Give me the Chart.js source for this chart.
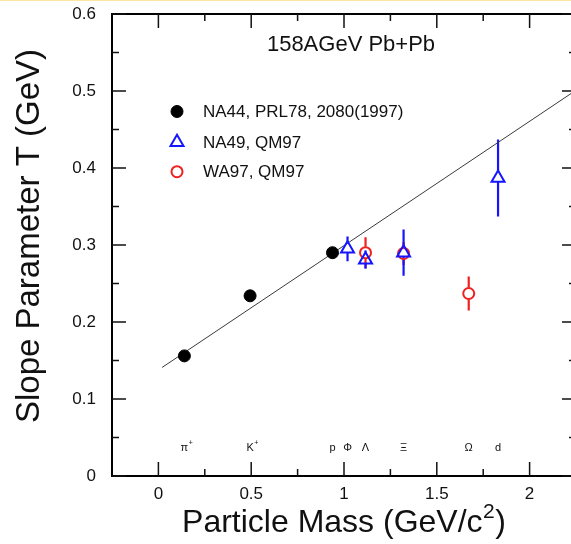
<!DOCTYPE html>
<html><head><meta charset="utf-8">
<script src="https://cdn.jsdelivr.net/npm/chart.js@4/dist/chart.umd.min.js"></script>
<style>
html,body{margin:0;padding:0;background:#fff;overflow:hidden;width:571px;height:544px}
#wrap{position:absolute;left:0;top:0;width:571px;height:544px;overflow:hidden;background:#fff}
#topline{position:absolute;left:0;top:0;width:571px;height:1px;background:#fbe6a2}
canvas{position:absolute;left:0;top:0}
</style></head><body>
<div id="wrap"><canvas id="c" width="576" height="544"></canvas><div id="topline"></div></div>
<script>
const FONT = '"Liberation Sans", Arial, Helvetica, sans-serif';
const BLACK = '#000000', BLUE = '#1515ff', RED = '#f02020';

// ---- data ----
const na44Mass = [0.140, 0.494, 0.938];
const na44T    = [0.156, 0.234, 0.290];
const na49Mass = [1.019, 1.116, 1.321, 1.830];
const na49T    = [0.295, 0.281, 0.290, 0.387];
const na49Err  = [0.016, 0.012, 0.030, 0.050];
const wa97Mass = [1.116, 1.321, 1.672];
const wa97T    = [0.290, 0.289, 0.237];
const wa97Err  = [0.020, 0.015, 0.022];
const fitMass  = [0.02, 2.25];
const fitT     = [0.141, 0.501];
const particleNames  = ['π', 'K', 'p', 'Φ', 'Λ', 'Ξ', 'Ω', 'd'];
const particleCharge = ['+', '+', '', '', '', '', '', ''];
const particleMass   = [0.140, 0.494, 0.938, 1.019, 1.116, 1.321, 1.672, 1.830];
const particleLabelT = 0.036;
const xTicks = [0, 0.5, 1, 1.5, 2];
const xMinor = [0.25, 0.75, 1.25, 1.75];
const yTicks = [0, 0.1, 0.2, 0.3, 0.4, 0.5, 0.6];
const yMinor = [0.05, 0.15, 0.25, 0.35, 0.45, 0.55];
const seriesNames = ['NA44, PRL78, 2080(1997)', 'NA49, QM97', 'WA97, QM97'];
const titleText = '158AGeV Pb+Pb';
const yTitle = 'Slope Parameter T (GeV)';
const xTitleMain = 'Particle Mass (GeV/c', xTitleSup = '2', xTitleEnd = ')';

const pts = (xs, ys) => xs.map((v, i) => ({x: v, y: ys[i]}));

const errorBars = [
  {m: wa97Mass, t: wa97T, e: wa97Err, color: RED, gapUp: 6, gapDn: 6},
  {m: na49Mass, t: na49T, e: na49Err, color: BLUE, gapUp: 7, gapDn: 3.5}
];

const decor = {
  id: 'decor',
  beforeDatasetsDraw(chart) {
    const {ctx, scales: {x, y}} = chart;
    ctx.save();
    ctx.lineWidth = 2.2;
    ctx.lineCap = 'butt';
    errorBars.forEach(s => {
      ctx.strokeStyle = s.color;
      s.m.forEach((m, i) => {
        const px = x.getPixelForValue(m);
        const pc = y.getPixelForValue(s.t[i]);
        const pHi = y.getPixelForValue(s.t[i] + s.e[i]);
        const pLo = y.getPixelForValue(s.t[i] - s.e[i]);
        ctx.beginPath();
        if (pc - s.gapUp > pHi) { ctx.moveTo(px, pHi); ctx.lineTo(px, pc - s.gapUp); }
        if (pc + s.gapDn < pLo) { ctx.moveTo(px, pc + s.gapDn); ctx.lineTo(px, pLo); }
        ctx.stroke();
      });
    });
    ctx.restore();
  },
  afterDraw(chart) {
    const {ctx, chartArea: a, scales: {x, y}} = chart;
    ctx.save();
    // frame
    ctx.strokeStyle = '#000';
    ctx.lineWidth = 2;
    ctx.strokeRect(a.left, a.top, a.right - a.left, a.bottom - a.top);
    // inward ticks
    ctx.lineWidth = 1.5;
    ctx.strokeStyle = '#111';
    const tk = (vals, len, axis) => {
      vals.forEach(v => {
        ctx.beginPath();
        if (axis === 'x') {
          const px = x.getPixelForValue(v);
          ctx.moveTo(px, a.bottom); ctx.lineTo(px, a.bottom - len);
          ctx.moveTo(px, a.top); ctx.lineTo(px, a.top + len);
        } else {
          const py = y.getPixelForValue(v);
          ctx.moveTo(a.left, py); ctx.lineTo(a.left + len, py);
          ctx.moveTo(a.right, py); ctx.lineTo(a.right - len, py);
        }
        ctx.stroke();
      });
    };
    tk(xTicks, 14, 'x'); tk(xMinor, 7, 'x');
    tk(yTicks, 14, 'y'); tk(yMinor, 7, 'y');

    // particle labels
    ctx.fillStyle = '#111';
    ctx.textBaseline = 'middle';
    const py0 = y.getPixelForValue(particleLabelT);
    particleNames.forEach((n, i) => {
      const px = x.getPixelForValue(particleMass[i]);
      ctx.font = '11px ' + FONT;
      ctx.textAlign = 'center';
      ctx.fillText(n, px, py0);
      if (particleCharge[i]) {
        const w = ctx.measureText(n).width;
        ctx.font = '7px ' + FONT;
        ctx.textAlign = 'left';
        ctx.fillText(particleCharge[i], px + w / 2 + 0.5, py0 - 5);
      }
    });

    // title inside plot
    ctx.fillStyle = '#111';
    ctx.font = '22px ' + FONT;
    ctx.textAlign = 'center';
    ctx.textBaseline = 'middle';
    ctx.fillText(titleText, (a.left + a.right) / 2 + 7, a.top + 31);

    // legend
    const lx = a.left + 65, tx = a.left + 91;
    const rows = [a.top + 97.5, a.top + 128.3, a.top + 157.7];
    const dsets = [chart.data.datasets[1], chart.data.datasets[2], chart.data.datasets[3]];
    dsets.forEach((ds, i) => {
      ctx.save();
      ctx.fillStyle = ds.backgroundColor;
      ctx.strokeStyle = ds.borderColor;
      ctx.lineWidth = ds.borderWidth;
      Chart.helpers.drawPoint(ctx, {pointStyle: ds.pointStyle, radius: ds.pointRadius, borderWidth: ds.borderWidth, rotation: 0}, lx, rows[i]);
      ctx.restore();
      ctx.fillStyle = '#111';
      ctx.font = '17px ' + FONT;
      ctx.textAlign = 'left';
      ctx.textBaseline = 'middle';
      ctx.fillText(seriesNames[i], tx, rows[i] + 1);
    });

    // y axis title
    ctx.save();
    ctx.translate(30, 236);
    ctx.rotate(-Math.PI / 2);
    ctx.font = '33px ' + FONT;
    ctx.textAlign = 'center';
    ctx.textBaseline = 'middle';
    ctx.fillStyle = '#111';
    ctx.fillText(yTitle, 0, 0);
    ctx.restore();

    // x axis title with superscript
    ctx.font = '32px ' + FONT;
    const w1 = ctx.measureText(xTitleMain).width;
    const w3 = ctx.measureText(xTitleEnd).width;
    ctx.font = '21px ' + FONT;
    const w2 = ctx.measureText(xTitleSup).width;
    const total = w1 + w2 + w3 + 1;
    let sx = (a.left + a.right) / 2 - total / 2;
    const ty = 523;
    ctx.textAlign = 'left';
    ctx.textBaseline = 'middle';
    ctx.fillStyle = '#111';
    ctx.font = '32px ' + FONT;
    ctx.fillText(xTitleMain, sx, ty);
    ctx.font = '21px ' + FONT;
    ctx.fillText(xTitleSup, sx + w1 + 0.5, ty - 11);
    ctx.font = '32px ' + FONT;
    ctx.fillText(xTitleEnd, sx + w1 + w2 + 1, ty);
    ctx.restore();
  }
};

const chart = new Chart(document.getElementById('c'), {
  type: 'scatter',
  data: {
    datasets: [
      {label: 'fit', data: pts(fitMass, fitT), showLine: true, borderColor: '#3a3a3a', borderWidth: 1,
       pointRadius: 0, fill: false, order: 10},
      {label: seriesNames[0], data: pts(na44Mass, na44T), pointStyle: 'circle', pointRadius: 6,
       backgroundColor: BLACK, borderColor: BLACK, borderWidth: 1, order: 3},
      {label: seriesNames[1], data: pts(na49Mass, na49T), pointStyle: 'triangle', pointRadius: 7.5,
       backgroundColor: 'rgba(0,0,0,0)', borderColor: BLUE, borderWidth: 2, order: 1},
      {label: seriesNames[2], data: pts(wa97Mass, wa97T), pointStyle: 'circle', pointRadius: 5.5,
       backgroundColor: 'rgba(0,0,0,0)', borderColor: RED, borderWidth: 2, order: 2}
    ]
  },
  options: {
    responsive: false, animation: false, devicePixelRatio: 1,
    layout: {autoPadding: false, padding: {left: 0, right: 0, top: 14, bottom: 0}},
    plugins: {legend: {display: false}, tooltip: {enabled: false}, title: {display: false}},
    scales: {
      x: {
        type: 'linear', min: -0.25, max: 2.25,
        afterBuildTicks: s => { s.ticks = xTicks.map(v => ({value: v})); },
        afterFit: s => { s.height = 68; s.paddingLeft = 0; s.paddingRight = 0; },
        grid: {display: false, drawTicks: false}, border: {display: false},
        ticks: {font: {family: FONT, size: 17}, color: '#111', padding: 8, maxRotation: 0, autoSkip: false,
                callback: v => String(v)}
      },
      y: {
        type: 'linear', min: 0, max: 0.6,
        afterBuildTicks: s => { s.ticks = yTicks.map(v => ({value: v})); },
        afterFit: s => { s.width = 112; s.paddingTop = 0; s.paddingBottom = 0; },
        grid: {display: false, drawTicks: false}, border: {display: false},
        ticks: {font: {family: FONT, size: 17}, color: '#111', padding: 16, autoSkip: false,
                callback: v => String(v)}
      }
    }
  },
  plugins: [decor]
});
</script>
</body></html>
